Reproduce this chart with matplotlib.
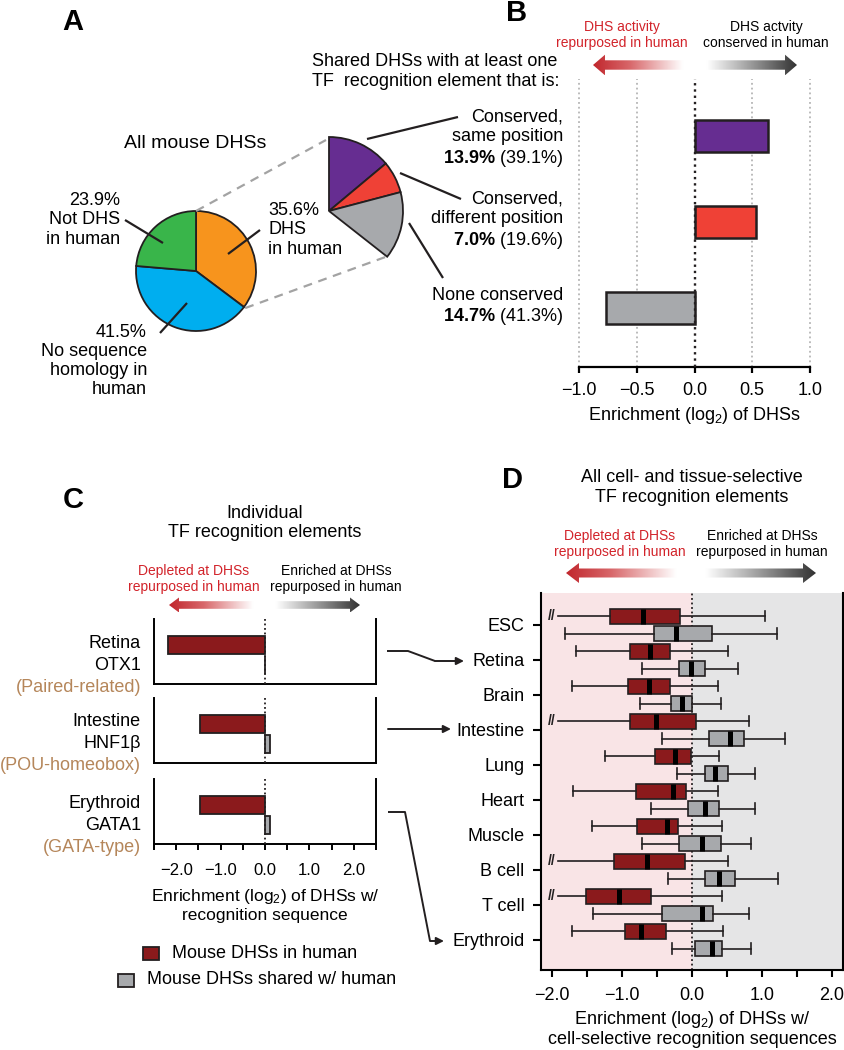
import numpy as np
import matplotlib
matplotlib.use('Agg')
import matplotlib.pyplot as plt
from matplotlib.colors import LinearSegmentedColormap
from matplotlib.patches import Polygon, Rectangle
from matplotlib.ticker import MultipleLocator, FuncFormatter

plt.rcParams['font.family'] = ['Liberation Sans', 'DejaVu Sans']
plt.rcParams['mathtext.fontset'] = 'custom'
plt.rcParams['mathtext.rm'] = 'Liberation Sans'
plt.rcParams['mathtext.it'] = 'Liberation Sans:italic'
plt.rcParams['mathtext.bf'] = 'Liberation Sans:bold'

W, H = 844, 1050
INK = '#231f20'
RED = '#8b1a1c'
GREY = '#a7a9ac'
CAP_RED = '#d2232a'
TAN = '#b5865a'
FS = 13

# --- A: all mouse DHSs ---
pie_pct = [35.6, 41.5, 23.9]
pie_colors = ['#f7941d', '#00aeef', '#39b54a']

# --- A/B: shared DHSs split by TF recognition element conservation ---
shared_names = ['Conserved,\nsame position', 'Conserved,\ndifferent position', 'None conserved']
shared_pct_all = [13.9, 7.0, 14.7]
shared_pct_rel = [39.1, 19.6, 41.3]
shared_enrich = [0.635, 0.534, -0.768]
shared_colors = ['#662d91', '#ef4136', GREY]

# --- C: individual TF recognition elements ---
c_tissues = ['Retina', 'Intestine', 'Erythroid']
c_tfs = ['OTX1', 'HNF1β', 'GATA1']
c_families = ['(Paired-related)', '(POU-homeobox)', '(GATA-type)']
c_human = [-2.19, -1.46, -1.46]
c_shared = [0.01, 0.11, 0.12]

# --- D: boxplot stats (whislo, q1, median, q3, whishi); None = whisker off scale ---
d_cells = ['ESC', 'Retina', 'Brain', 'Intestine', 'Lung', 'Heart', 'Muscle',
           'B cell', 'T cell', 'Erythroid']
d_human = [
    (None, -1.18, -0.70, -0.17, 1.04),
    (-1.66, -0.88, -0.60, -0.32, 0.52),
    (-1.72, -0.91, -0.62, -0.31, 0.37),
    (None, -0.88, -0.51, 0.06, 0.82),
    (-1.25, -0.53, -0.25, -0.01, 0.39),
    (-1.70, -0.80, -0.27, -0.08, 0.37),
    (-1.43, -0.78, -0.36, -0.20, 0.43),
    (None, -1.12, -0.64, -0.10, 0.52),
    (None, -1.51, -1.05, -0.58, 0.43),
    (-1.72, -0.96, -0.73, -0.37, 0.45),
]
d_shared = [
    (-1.81, -0.55, -0.23, 0.29, 1.21),
    (-0.71, -0.18, -0.02, 0.18, 0.66),
    (-0.74, -0.30, -0.14, 0.00, 0.41),
    (-0.43, 0.25, 0.54, 0.74, 1.33),
    (-0.21, 0.18, 0.33, 0.51, 0.90),
    (-0.59, -0.06, 0.19, 0.39, 0.90),
    (-0.72, -0.18, 0.15, 0.41, 0.84),
    (-0.34, 0.19, 0.39, 0.61, 1.23),
    (-1.42, -0.43, 0.14, 0.30, 0.81),
    (-0.29, 0.04, 0.28, 0.43, 0.84),
]
BREAK = -1.92

fig = plt.figure(figsize=(W / 100, H / 100), dpi=100)
ov = fig.add_axes([0, 0, 1, 1])


def box(x0, y0, x1, y1):
    return [x0 / W, 1 - y1 / H, (x1 - x0) / W, (y1 - y0) / H]


def Y(y):
    return H - y


def line(pts, lw=1.6, **kw):
    ov.plot([p[0] for p in pts], [Y(p[1]) for p in pts], color=INK, lw=lw,
            solid_capstyle='butt', **kw)


def txt(x, y, s, **kw):
    kw.setdefault('fontsize', FS)
    kw.setdefault('va', 'center')
    ov.text(x, Y(y), s, **kw)


def arrow_to(pts):
    line(pts[:-1], lw=1.4)
    ov.annotate('', xy=(pts[-1][0], Y(pts[-1][1])), xytext=(pts[-2][0], Y(pts[-2][1])),
                arrowprops=dict(arrowstyle='-|>', color=INK, lw=1.4,
                                mutation_scale=11, shrinkA=0, shrinkB=0))


arrow_cmap = LinearSegmentedColormap.from_list(
    'dir', [(0, '#c1272d'), (0.18, '#d8676a'), (0.44, '#ffffff'),
            (0.56, '#ffffff'), (1, '#333333')])


def grad_arrow(x0, x1, yc, s, h, L):
    y = Y(yc)
    pts = [(x0, y), (x0 + L, y + h), (x0 + L, y + s), (x1 - L, y + s), (x1 - L, y + h),
           (x1, y), (x1 - L, y - h), (x1 - L, y - s), (x0 + L, y - s), (x0 + L, y - h)]
    poly = Polygon(pts, closed=True, facecolor='none', edgecolor='none')
    ov.add_patch(poly)
    im = ov.imshow(np.linspace(0, 1, 256)[None, :], cmap=arrow_cmap,
                   extent=(x0, x1, y - h, y + h), aspect='auto', interpolation='bilinear')
    im.set_clip_path(poly)


# ================= Panel A =================
pc, pr = (196, 271), 60
ov.pie(pie_pct, colors=pie_colors, startangle=90, counterclock=False,
       center=(pc[0], Y(pc[1])), radius=pr,
       wedgeprops=dict(edgecolor=INK, linewidth=1.3))

zc, zr = (329, 211), 74
span = pie_pct[0]
parts = [span * p / 100 for p in shared_pct_rel] + [100 - span]
wedges, _ = ov.pie(parts, colors=shared_colors + ['white'], startangle=90, counterclock=False,
                   center=(zc[0], Y(zc[1])), radius=zr,
                   wedgeprops=dict(edgecolor=INK, linewidth=1.3))
wedges[-1].set_visible(False)

end = np.deg2rad(90 - 360 * span / 100)
dash = dict(color='#a3a3a3', lw=1.6, ls=(0, (4, 3)))
ov.plot([pc[0], zc[0] - 3], [Y(pc[1] - pr), Y(zc[1] - zr + 3)], **dash)
ov.plot([pc[0] + pr * np.cos(end) + 2, zc[0] + zr * np.cos(end) - 1],
        [Y(pc[1]) + pr * np.sin(end), Y(zc[1]) + zr * np.sin(end)], **dash)

txt(195, 143, 'All mouse DHSs', ha='center', fontsize=14)
txt(120, 220, f'{pie_pct[2]:.1f}%\nNot DHS\nin human', ha='right', linespacing=1.2)
txt(268, 230, f'{pie_pct[0]:.1f}%\nDHS\nin human', ha='left', linespacing=1.2)
txt(147, 361, f'{pie_pct[1]:.1f}%\nNo sequence\nhomology in\nhuman', ha='right', linespacing=1.17)
line([(125, 220), (163, 243)])
line([(260, 230), (228, 254)])
line([(160, 333), (187, 303)])

txt(312, 71.5, 'Shared DHSs with at least one\nTF  recognition element that is:',
    ha='left', linespacing=1.18)
line([(367, 139), (458, 117)])
line([(400, 173), (461, 199)])
line([(409, 223), (443, 278)])

b_label_y = [138.5, 220.5, 307]
for name, a, r, yy in zip(shared_names, shared_pct_all, shared_pct_rel, b_label_y):
    txt(563, yy, f'{name}\n$\\mathbf{{{a:.1f}\\%}}$ ({r:.1f}%)', ha='right',
        fontsize=13, linespacing=1.18)

# ================= Panel B =================
axB = fig.add_axes(box(579, 79, 810, 367))
axB.set_facecolor('none')
yB = np.arange(len(shared_enrich))
axB.barh(yB, shared_enrich, height=0.37, color=shared_colors, edgecolor=INK,
         linewidth=1.8, zorder=3)
for v in [-1, -0.5, 0.5, 1]:
    axB.axvline(v, color='#b5b5b5', ls=':', lw=1.3, zorder=1, clip_on=False)
axB.axvline(0, color=INK, ls=':', lw=1.7, zorder=4)
axB.set_xlim(-1, 1)
axB.set_ylim(2.69, -0.66)
for s in ['left', 'right', 'top']:
    axB.spines[s].set_visible(False)
axB.spines['bottom'].set_linewidth(1.6)
axB.set_yticks([])
axB.set_xticks([-1, -0.5, 0, 0.5, 1])
fmt = FuncFormatter(lambda v, p: f'{v:.1f}'.replace('-', '\u2212'))
axB.xaxis.set_major_formatter(fmt)
axB.tick_params(axis='x', length=4, width=1.6, labelsize=FS, pad=6.5)
axB.set_xlabel('Enrichment (log$_2$) of DHSs', fontsize=FS, labelpad=4.5)

txt(622, 35, 'DHS activity\nrepurposed in human', ha='center', fontsize=10,
    color=CAP_RED, linespacing=1.15)
txt(766, 35, 'DHS actvity\nconserved in human', ha='center', fontsize=10,
    color='black', linespacing=1.15)
grad_arrow(593, 797, 65, 4.7, 10.3, 12)

# ================= Panel C =================
txt(265, 523, 'Individual\nTF recognition elements', ha='center', linespacing=1.18)
txt(194, 579, 'Depleted at DHSs\nrepurposed in human', ha='center', fontsize=10,
    color=CAP_RED, linespacing=1.15)
txt(336, 579, 'Enriched at DHSs\nrepurposed in human', ha='center', fontsize=10,
    color='black', linespacing=1.15)
grad_arrow(169, 360, 605, 3.8, 7.5, 10)

c_tops = [619, 698, 779]
for i, top in enumerate(c_tops):
    ax = fig.add_axes(box(154, top, 376, top + 65))
    ax.set_facecolor('none')
    ax.barh([0, 1], [c_human[i], c_shared[i]], height=0.9, color=[RED, GREY],
            edgecolor=INK, linewidth=1.3, zorder=3)
    ax.axvline(0, color=INK, ls=(0, (1, 1.5)), lw=1.3, zorder=4)
    ax.set_xlim(-2.5, 2.5)
    ax.set_ylim(1.95, -1.3)
    ax.spines['top'].set_visible(False)
    for s in ['left', 'right', 'bottom']:
        ax.spines[s].set_linewidth(1.4)
    ax.set_yticks([])
    mid = top + 46
    txt(141, mid - 22, c_tissues[i], ha='right')
    txt(141, mid, c_tfs[i], ha='right')
    txt(141, mid + 22, c_families[i], ha='right', color=TAN)
    if i < 2:
        ax.set_xticks([])
    else:
        ax.xaxis.set_major_locator(MultipleLocator(1.0))
        ax.xaxis.set_minor_locator(MultipleLocator(0.5))
        ax.xaxis.set_major_formatter(fmt)
        ax.set_xticks([-2, -1, 0, 1, 2])
        ax.tick_params(axis='x', which='both', length=4.5, width=1.4, labelsize=12, pad=9)
        ax.set_xlabel('Enrichment (log$_2$) of DHSs w/\nrecognition sequence',
                      fontsize=12.5, labelpad=7, linespacing=1.12)

ov.add_patch(Rectangle((143, Y(960)), 16, 13, facecolor=RED, edgecolor=INK, lw=1.3))
txt(172, 953, 'Mouse DHSs in human', ha='left')
ov.add_patch(Rectangle((118, Y(987)), 16, 13, facecolor=GREY, edgecolor=INK, lw=1.3))
txt(147, 980, 'Mouse DHSs shared w/ human', ha='left')

arrow_to([(387, 651), (408, 651), (435, 661), (464, 661)])
arrow_to([(388, 729), (451, 729)])
arrow_to([(388, 812), (405, 812), (430, 941), (444, 941)])

# ================= Panel D =================
txt(692, 487.5, 'All cell- and tissue-selective\nTF recognition elements', ha='center',
    linespacing=1.18)
txt(620, 544, 'Depleted at DHSs\nrepurposed in human', ha='center', fontsize=10,
    color=CAP_RED, linespacing=1.15)
txt(762, 544, 'Enriched at DHSs\nrepurposed in human', ha='center', fontsize=10,
    color='black', linespacing=1.15)
grad_arrow(566, 816, 573, 4.5, 10, 13)

axD = fig.add_axes(box(541, 593, 843, 970))
XL = (-2.16, 2.16)
axD.axvspan(XL[0], 0, color='#f9e4e6', zorder=0.5, lw=0)
axD.axvspan(0, XL[1], color='#e5e5e6', zorder=0.5, lw=0)
axD.axvline(0, color=INK, ls=(0, (1, 1.5)), lw=1.3, zorder=1.5)

pos = np.arange(len(d_cells))


def draw_boxes(ax, rows, positions, face):
    stats = [dict(whislo=BREAK if r[0] is None else r[0], q1=r[1], med=r[2], q3=r[3],
                  whishi=r[4], fliers=[]) for r in rows]
    kw = dict(positions=positions, widths=0.43, capwidths=0.3, patch_artist=True,
              manage_ticks=False, showfliers=False,
              boxprops=dict(facecolor=face, edgecolor=INK, linewidth=1.2),
              whiskerprops=dict(color=INK, linewidth=1.2),
              capprops=dict(color=INK, linewidth=1.2),
              medianprops=dict(color='black', linewidth=3.6, solid_capstyle='butt'))
    try:
        art = ax.bxp(stats, orientation='horizontal', **kw)
    except TypeError:
        art = ax.bxp(stats, vert=False, **kw)
    for i, r in enumerate(rows):
        if r[0] is None:
            art['caps'][2 * i].set_visible(False)
            ax.text(BREAK - 0.09, positions[i], '//', ha='center', va='center',
                    fontsize=10, fontweight='bold', color=INK)


draw_boxes(axD, d_human, pos - 0.25, RED)
draw_boxes(axD, d_shared, pos + 0.25, GREY)

axD.set_xlim(*XL)
axD.set_ylim(9.86, -0.91)
axD.spines['top'].set_visible(False)
for s in ['left', 'right', 'bottom']:
    axD.spines[s].set_linewidth(1.5)
axD.set_yticks(pos, d_cells)
axD.xaxis.set_major_locator(MultipleLocator(1.0))
axD.xaxis.set_minor_locator(MultipleLocator(0.5))
axD.xaxis.set_major_formatter(fmt)
axD.tick_params(axis='y', length=6, width=1.5, labelsize=13, pad=6)
axD.tick_params(axis='x', which='both', length=5, width=1.5, labelsize=13, pad=7)
axD.set_xlabel('Enrichment (log$_2$) of DHSs w/\ncell-selective recognition sequences',
               fontsize=FS, labelpad=3.5, linespacing=1.1)

# panel letters
for letter, (x, y) in zip('ABCD', [(73, 22), (517, 13), (73, 500), (512, 480)]):
    txt(x, y, letter, ha='center', fontsize=21, fontweight='bold')

ov.set_aspect('auto')
ov.set_xlim(0, W)
ov.set_ylim(0, H)
ov.set_axis_off()

fig.savefig('out.png', dpi=100, facecolor='white')
